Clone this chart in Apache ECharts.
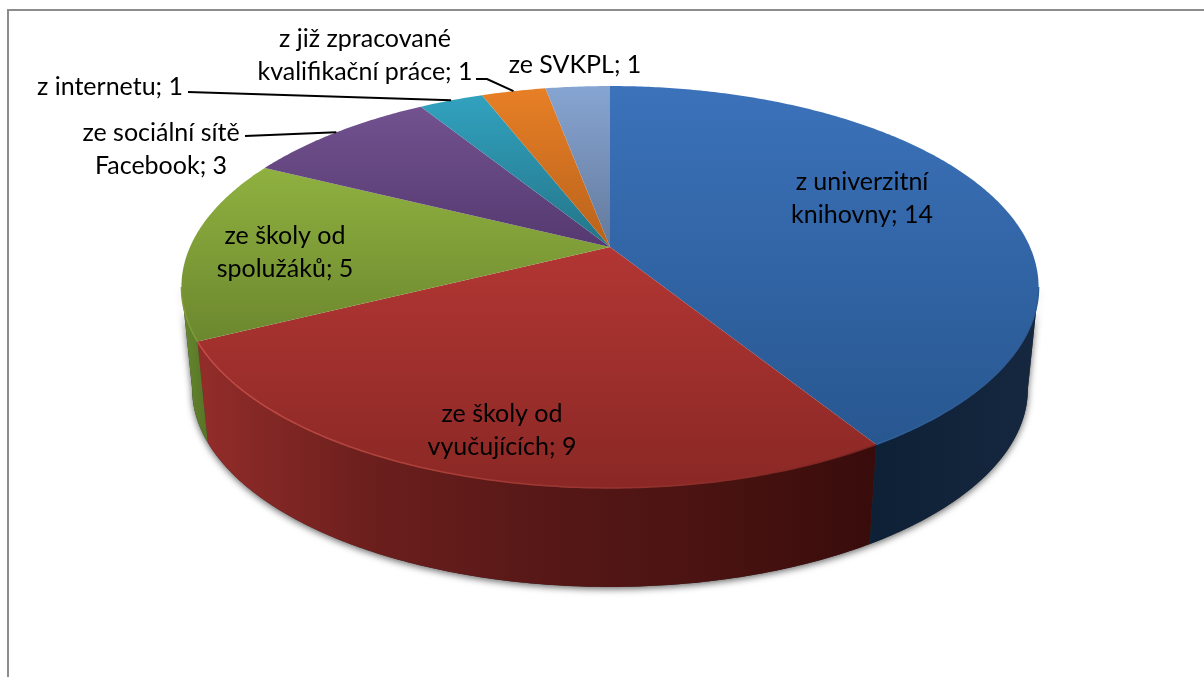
<!DOCTYPE html>
<html>
<head>
<meta charset="utf-8">
<title>Zdroje</title>
<script src="https://cdn.jsdelivr.net/npm/echarts@6/dist/echarts.min.js"></script>
<style>
  html, body { margin: 0; padding: 0; background: #fff; }
  #chart { width: 1204px; height: 677px; }
</style>
</head>
<body>
<div id="chart"></div>
<script>
// data, clockwise from 12 o'clock
const categories = [
  'z univerzitní\nknihovny',
  'ze školy od\nvyučujících',
  'ze školy od\nspolužáků',
  'ze sociální sítě\nFacebook',
  'z internetu',
  'z již zpracované\nkvalifikační práce',
  'ze SVKPL'
]
const values = [14, 9, 5, 3, 1, 1, 1]

// ---- look ----
const topLight = ['#3b72ba', '#b23633', '#8fb140', '#72528f', '#32a2bf', '#e77f26', '#87a5d2']
const topDark = ['#285790', '#8a2825', '#6c872e', '#553970', '#237488', '#b9621b', '#63799c']
const wallStops = [
  ['#0e2036', '#15283f'],
  ['#932d2a', '#6c1f1d', '#571817', '#4a1311', '#380c0b'],
  ['#66882f', '#577426'],
  ['#3f2a55', '#3f2a55'],
  ['#1a5a6a', '#1a5a6a'],
  ['#8a4a14', '#8a4a14'],
  ['#4d5d78', '#4d5d78']
]
const rimStops = [
  ['#2f5f9a', '#2c5b96'],
  ['#c44d48', '#7b2320'],
  ['#7f9c38', '#7f9c38']
]

// label centres and where the leader line leaves the text
const labelPos = [[862, 198], [502, 430], [285, 252], [161, 149], [110, 87], [365, 55], [575, 65]]
const leaderFrom = [null, null, null, [245, 136], [188, 92], [476, 79], null]
const leaderKnee = [null, null, null, null, null, [487, 79], null]

// perspective of the pie disc: circle -> screen
const CX = 610
const APEX_Y = 247
const RX = 420
const RY = 193
const TILT = 0.199
const WALL_Y = 349.6
const WALL_SX = 0.975
const WALL_SY = 0.985

// the wall only shows between the two widest points of the rim
const FRONT_FROM = Math.acos(-TILT)
const FRONT_TO = Math.PI * 2 - FRONT_FROM

const total = values.reduce((a, b) => a + b, 0)
const startOf = (i) => values.slice(0, i).reduce((a, b) => a + b, 0) / total * Math.PI * 2
const endOf = (i) => startOf(i) + values[i] / total * Math.PI * 2

function project (angle, cy, sx, sy) {
  const u = Math.sin(angle)
  const v = -Math.cos(angle)
  const d = 1 - TILT * v
  return [CX + sx * RX * u / d, cy + sy * RY * v / d]
}

function arc (from, to, cy, sx, sy) {
  const pts = []
  const n = Math.max(2, Math.ceil((to - from) / 0.01))
  for (let k = 0; k <= n; k++) pts.push(project(from + (to - from) * k / n, cy, sx, sy))
  return pts
}

const upperArc = (from, to) => arc(from, to, APEX_Y, 1, 1)
const lowerArc = (from, to) => arc(from, to, WALL_Y, WALL_SX, WALL_SY)

function hGrad (pts, colors) {
  const xs = pts.map((p) => p[0])
  return new echarts.graphic.LinearGradient(Math.min(...xs), 0, Math.max(...xs), 0,
    colors.map((color, k) => ({ offset: k / (colors.length - 1), color })), true)
}

function renderWall (params) {
  const i = params.dataIndex
  const from = Math.max(startOf(i), FRONT_FROM)
  const to = Math.min(endOf(i), FRONT_TO)
  if (from >= to) return null
  const pts = upperArc(from, to).concat(lowerArc(from, to).reverse())
  return {
    type: 'polygon',
    shape: { points: pts },
    style: { fill: hGrad(pts, wallStops[i]) }
  }
}

function renderTop (params) {
  const i = params.dataIndex
  const rim = upperArc(startOf(i), endOf(i))
  const pts = [[CX, APEX_Y]].concat(rim)
  const ys = pts.map((p) => p[1])
  const children = [{
    type: 'polygon',
    shape: { points: pts },
    style: {
      fill: new echarts.graphic.LinearGradient(0, Math.min(...ys), 0, Math.max(...ys), [
        { offset: 0, color: topLight[i] }, { offset: 1, color: topDark[i] }
      ], true)
    }
  }]
  const from = Math.max(startOf(i), FRONT_FROM)
  const to = Math.min(endOf(i), FRONT_TO)
  if (from < to) {
    const front = upperArc(from, to)
    children.push({
      type: 'polyline',
      shape: { points: front },
      style: { stroke: hGrad(front, rimStops[i]), lineWidth: 1.5, fill: null }
    })
  }
  return { type: 'group', children }
}

function renderLabel (params) {
  const i = params.dataIndex
  const children = [{
    type: 'text',
    style: {
      x: labelPos[i][0],
      y: labelPos[i][1],
      text: categories[i] + '; ' + values[i],
      font: '25px Lato, "Noto Sans"',
      lineHeight: 33,
      fill: '#000',
      align: 'center',
      verticalAlign: 'middle'
    }
  }]
  if (leaderFrom[i]) {
    const pts = [leaderFrom[i]]
    if (leaderKnee[i]) pts.push(leaderKnee[i])
    pts.push(project((startOf(i) + endOf(i)) / 2, APEX_Y, 1, 1))
    children.push({
      type: 'polyline',
      shape: { points: pts },
      style: { stroke: '#000', lineWidth: 2, fill: null }
    })
  }
  return { type: 'group', children }
}

const chart = echarts.init(document.getElementById('chart'))
chart.setOption({
  backgroundColor: '#fff',
  animation: false,
  graphic: [
    {
      type: 'polyline',
      silent: true,
      shape: { points: [[8, 677], [8, 10], [1204, 10]] },
      style: { stroke: '#8c8c8c', lineWidth: 2, fill: null }
    }
  ],
  series: [
    {
      // shadow under the disc
      type: 'custom',
      coordinateSystem: 'none',
      z: 1,
      data: [total],
      renderItem: () => ({
        type: 'polygon',
        shape: { points: upperArc(FRONT_FROM, FRONT_TO).concat(lowerArc(FRONT_FROM, FRONT_TO).reverse()) },
        style: {
          fill: '#333',
          shadowBlur: 7,
          shadowColor: 'rgba(0,0,0,0.6)',
          shadowOffsetY: 2
        }
      })
    },
    { type: 'custom', coordinateSystem: 'none', z: 2, data: values, renderItem: renderWall },
    { type: 'custom', coordinateSystem: 'none', z: 3, data: values, renderItem: renderTop },
    { type: 'custom', coordinateSystem: 'none', z: 4, data: values, renderItem: renderLabel }
  ]
})
</script>
</body>
</html>
